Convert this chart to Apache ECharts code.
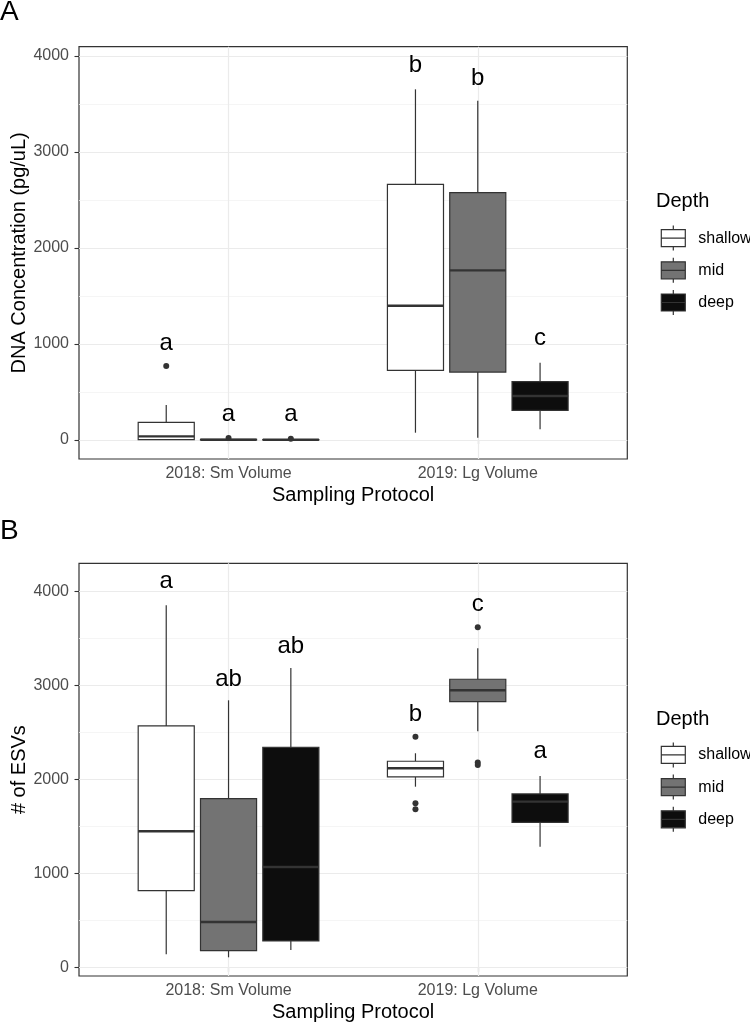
<!DOCTYPE html>
<html>
<head>
<meta charset="utf-8">
<script src="https://cdn.jsdelivr.net/npm/echarts@6/dist/echarts.min.js"></script>
<style>
html,body{margin:0;padding:0;background:#fff;}
#chart{width:750px;height:1024px;}
</style>
</head>
<body>
<div id="chart"></div>
<script>
// ---------- data ----------
const groups = ['2018: Sm Volume', '2019: Lg Volume'];
const depths = ['shallow', 'mid', 'deep'];
const fills = ['#ffffff', '#737373', '#0d0d0d'];
const yTicksA = [0, 1000, 2000, 3000, 4000];
const yMinorA = [500, 1500, 2500, 3500];
const yTicksB = [0, 1000, 2000, 3000, 4000];
const yMinorB = [500, 1500, 2500, 3500];

// Panel A: DNA concentration, [min, Q1, median, Q3, max] per group
const dnaShallow = [[0, 3, 38, 184, 365], [76, 726, 1399, 2663, 3653]];
const dnaMid = [[0, 1, 3, 6, 12], [24, 708, 1767, 2576, 3535]];
const dnaDeep = [[0, 1, 2, 5, 10], [111, 309, 458, 608, 805]];
// outliers [groupIndex, value]
const dnaOutShallow = [[0, 771]];
const dnaOutMid = [[0, 20]];
const dnaOutDeep = [[0, 14]];
// letters [groupIndex, value, text]
const dnaLetShallow = [[0, 1010, 'a'], [1, 3899, 'b']];
const dnaLetMid = [[0, 264, 'a'], [1, 3767, 'b']];
const dnaLetDeep = [[0, 264, 'a'], [1, 1055, 'c']];

// Panel B: # of ESVs
const esvShallow = [[138, 816, 1448, 2570, 3855], [1923, 2027, 2119, 2194, 2279]];
const esvMid = [[106, 177, 482, 1796, 2843], [2513, 2829, 2950, 3067, 3397]];
const esvDeep = [[184, 280, 1068, 2343, 3187], [1284, 1544, 1764, 1846, 2037]];
const esvOutShallow = [[1, 2456], [1, 1747], [1, 1683]];
const esvOutMid = [[1, 3621], [1, 2180], [1, 2155]];
const esvOutDeep = [];
const esvLetShallow = [[0, 4106, 'a'], [1, 2690, 'b']];
const esvLetMid = [[0, 3070, 'ab'], [1, 3869, 'c']];
const esvLetDeep = [[0, 3418, 'ab'], [1, 2298, 'a']];

// ---------- layout helpers ----------
const FONT = "'Liberation Sans', Arial, Helvetica, sans-serif";
const dodge = [-0.25, 0, 0.25];
const boxW = 0.225;
const LINE = '#333333';

function boxSeries(name, stats, di, gi) {
  return {
    type: 'custom', name: name, xAxisIndex: gi, yAxisIndex: gi, z: 3,
    encode: {x: 0, y: [1, 2, 3, 4, 5]},
    data: stats.map((s, i) => [i + 1 + dodge[di]].concat(s)),
    renderItem: function (params, api) {
      const x = api.value(0);
      const half = api.size([boxW, 0])[0] / 2;
      const pMin = api.coord([x, api.value(1)]);
      const pQ1 = api.coord([x, api.value(2)]);
      const pMed = api.coord([x, api.value(3)]);
      const pQ3 = api.coord([x, api.value(4)]);
      const pMax = api.coord([x, api.value(5)]);
      const cx = pMed[0];
      return {
        type: 'group',
        children: [
          {type: 'line', shape: {x1: cx, y1: pQ3[1], x2: cx, y2: pMax[1]}, style: {stroke: LINE, lineWidth: 1.2}},
          {type: 'line', shape: {x1: cx, y1: pQ1[1], x2: cx, y2: pMin[1]}, style: {stroke: LINE, lineWidth: 1.2}},
          {type: 'rect', shape: {x: cx - half, y: pQ3[1], width: half * 2, height: Math.max(pQ1[1] - pQ3[1], 0.1)},
           style: {fill: fills[di], stroke: LINE, lineWidth: 1.2}},
          {type: 'line', shape: {x1: cx - half, y1: pMed[1], x2: cx + half, y2: pMed[1]}, style: {stroke: LINE, lineWidth: 2.4}}
        ]
      };
    }
  };
}
function outlierSeries(name, pts, di, gi) {
  return {
    type: 'scatter', name: name + ' outliers', xAxisIndex: gi, yAxisIndex: gi, z: 4,
    symbolSize: 6, itemStyle: {color: LINE, opacity: 1},
    data: pts.map(p => [p[0] + 1 + dodge[di], p[1]])
  };
}
function letterSeries(name, pts, di, gi) {
  return {
    type: 'custom', name: name + ' letters', xAxisIndex: gi, yAxisIndex: gi, z: 5,
    encode: {x: 0, y: 1},
    data: pts.map(p => [p[0] + 1 + dodge[di], p[1], p[2]]),
    renderItem: function (params, api) {
      const pt = api.coord([api.value(0), api.value(1)]);
      return {type: 'text', style: {text: pts[params.dataIndex][2], x: pt[0], y: pt[1],
        textAlign: 'center', textVerticalAlign: 'middle', fill: '#000', font: '24px ' + FONT}};
    }
  };
}
function gridSeries(gi, majors, minors) {
  const lines = [];
  majors.forEach(v => lines.push({yAxis: v, lineStyle: {color: '#ebebeb', width: 1.2, type: 'solid'}}));
  minors.forEach(v => lines.push({yAxis: v, lineStyle: {color: '#f2f2f2', width: 0.8, type: 'solid'}}));
  groups.forEach((g, i) => lines.push({xAxis: i + 1, lineStyle: {color: '#ebebeb', width: 1.2, type: 'solid'}}));
  return {
    type: 'line', name: 'grid' + gi, xAxisIndex: gi, yAxisIndex: gi, data: [], z: 1,
    markLine: {silent: true, symbol: ['none', 'none'], label: {show: false}, z: 1, animation: false, data: lines}
  };
}

const legendIcon = 'path://M0,4H24V21H0Z M0,12.5H24 M12,0V4 M12,21V25';
function legend(top) {
  return {
    orient: 'vertical', left: 660.7, top: top, padding: 0,
    itemWidth: 24, itemHeight: 25, itemGap: 6, selectedMode: false,
    textStyle: {fontSize: 16, color: '#000', fontFamily: FONT, padding: [0, 0, 0, 8]},
    data: depths.map((d, i) => ({name: d, icon: legendIcon,
      itemStyle: {color: fills[i], borderColor: LINE, borderWidth: 1.2}}))
  };
}
function xAxis(gi) {
  return {
    type: 'value', gridIndex: gi, min: 0.4, max: 2.6,
    name: 'Sampling Protocol', nameLocation: 'middle', nameGap: 26, nameMoveOverlap: false,
    nameTextStyle: {fontSize: 20, color: '#000', fontFamily: FONT},
    axisLine: {show: false},
    axisTick: {show: true, length: 4.5, lineStyle: {color: LINE, width: 1.1}, customValues: [1, 2]},
    axisLabel: {show: true, customValues: [1, 2], margin: 7, fontSize: 16, color: '#4d4d4d', fontFamily: FONT,
      formatter: v => (Math.abs(v - Math.round(v)) < 1e-6 && groups[Math.round(v) - 1]) ? groups[Math.round(v) - 1] : ''},
    splitLine: {show: false}
  };
}
function yAxis(gi, name, min, max, ticks) {
  return {
    type: 'value', gridIndex: gi, min: min, max: max,
    name: name, nameLocation: 'middle', nameGap: 50, nameMoveOverlap: false,
    nameTextStyle: {fontSize: 20, color: '#000', fontFamily: FONT},
    axisLine: {show: false},
    axisTick: {show: true, length: 4.5, lineStyle: {color: LINE, width: 1.1}, customValues: ticks},
    axisLabel: {show: true, customValues: ticks, margin: 10, fontSize: 16, color: '#4d4d4d', fontFamily: FONT,
      formatter: v => String(Math.round(v))},
    splitLine: {show: false}, minorSplitLine: {show: false}
  };
}

const series = [gridSeries(0, yTicksA, yMinorA), gridSeries(1, yTicksB, yMinorB)];
const dnaStats = [dnaShallow, dnaMid, dnaDeep];
const dnaOut = [dnaOutShallow, dnaOutMid, dnaOutDeep];
const dnaLet = [dnaLetShallow, dnaLetMid, dnaLetDeep];
const esvStats = [esvShallow, esvMid, esvDeep];
const esvOut = [esvOutShallow, esvOutMid, esvOutDeep];
const esvLet = [esvLetShallow, esvLetMid, esvLetDeep];
depths.forEach((d, di) => {
  series.push(boxSeries(d, dnaStats[di], di, 0));
  series.push(outlierSeries(d, dnaOut[di], di, 0));
  series.push(letterSeries(d, dnaLet[di], di, 0));
  series.push(boxSeries(d, esvStats[di], di, 1));
  series.push(outlierSeries(d, esvOut[di], di, 1));
  series.push(letterSeries(d, esvLet[di], di, 1));
});

const chart = echarts.init(document.getElementById('chart'), null, {renderer: 'canvas'});
chart.setOption({
  animation: false,
  backgroundColor: '#ffffff',
  textStyle: {fontFamily: FONT},
  title: [
    {text: 'A', left: 0, top: -2, padding: 0, textStyle: {fontSize: 28, fontWeight: 'normal', color: '#000', fontFamily: FONT}},
    {text: 'B', left: 0, top: 517, padding: 0, textStyle: {fontSize: 28, fontWeight: 'normal', color: '#000', fontFamily: FONT}},
    {text: 'Depth', left: 656, top: 191.7, padding: 0, textStyle: {fontSize: 20, fontWeight: 'normal', color: '#000', fontFamily: FONT}},
    {text: 'Depth', left: 656, top: 709.3, padding: 0, textStyle: {fontSize: 20, fontWeight: 'normal', color: '#000', fontFamily: FONT}}
  ],
  legend: [legend(225), legend(741.8)],
  grid: [
    {left: 79, width: 548.3, top: 46.7, height: 412.3, show: true, borderColor: LINE, borderWidth: 1.2, backgroundColor: '#fff',
     containLabel: false, outerBoundsMode: 'none'},
    {left: 79, width: 548.3, top: 563.3, height: 412.7, show: true, borderColor: LINE, borderWidth: 1.2, backgroundColor: '#fff',
     containLabel: false, outerBoundsMode: 'none'}
  ],
  xAxis: [xAxis(0), xAxis(1)],
  yAxis: [yAxis(0, 'DNA Concentration (pg/uL)', -198, 4097, yTicksA), yAxis(1, '# of ESVs', -93, 4302, yTicksB)],
  series: series
});
</script>
</body>
</html>
